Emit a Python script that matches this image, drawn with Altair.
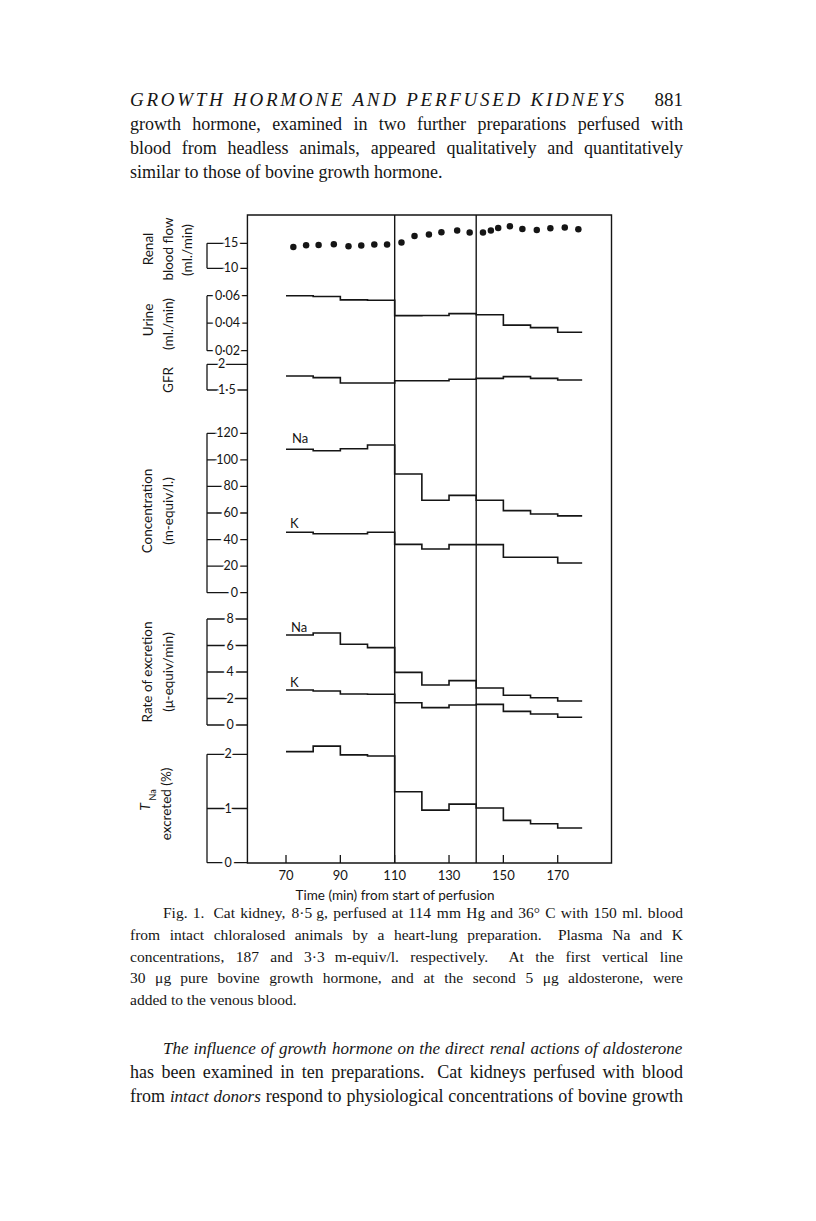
import altair as alt
import pandas as pd

W, H = 800, 1200
OFF = 8
INK = "#151515"
SANS = "Lato"
SERIF = "Liberation Serif"

# ---------------- data ----------------
seg_start = [70, 80, 90, 100, 110, 120, 130, 140, 150, 160, 170]
seg_end = 179

urine = [0.0600, 0.0594, 0.0570, 0.0567, 0.0455, 0.0456, 0.0470, 0.0462, 0.0386, 0.0368, 0.0334]
gfr = [1.772, 1.740, 1.636, 1.636, 1.680, 1.680, 1.708, 1.727, 1.760, 1.727, 1.695]
na_conc = [108.0, 106.9, 108.4, 111.2, 89.4, 69.6, 73.3, 69.6, 61.8, 59.3, 57.8]
k_conc = [45.5, 44.4, 44.4, 45.5, 36.4, 32.9, 36.2, 36.2, 26.7, 26.7, 22.4]
na_rate = [6.79, 6.94, 6.09, 5.84, 3.97, 3.02, 3.35, 2.79, 2.24, 2.06, 1.81]
k_rate = [2.64, 2.57, 2.34, 2.32, 1.68, 1.31, 1.51, 1.56, 1.03, 0.83, 0.58]
t_na = [2.05, 2.15, 1.99, 1.97, 1.31, 0.97, 1.08, 1.01, 0.78, 0.72, 0.64]

rbf_time = [72.7, 77.4, 82.0, 87.6, 93.0, 97.7, 102.5, 107.2, 112.5, 117.3, 122.6, 127.2,
            133.0, 137.6, 142.5, 145.4, 148.1, 152.4, 157.0, 162.3, 167.3, 172.6, 177.6]
rbf_flow = [14.26, 14.60, 14.66, 14.80, 14.40, 14.54, 14.74, 14.74, 15.14, 16.46, 16.74, 17.20,
            17.54, 17.14, 17.14, 17.54, 18.06, 18.40, 17.86, 17.66, 18.00, 18.14, 17.80]

event_times = [110, 140]
x_ticks = [70, 90, 110, 130, 150, 170]
box_limits = [55.8, 189.8]

rbf_ticks, rbf_labels = [15, 10], ["15", "10"]
urine_ticks, urine_labels = [0.06, 0.04, 0.02], ["0·06", "0·04", "0·02"]
gfr_ticks, gfr_labels = [2, 1.5], ["2", "1·5"]
conc_ticks = [120, 100, 80, 60, 40, 20, 0]
conc_labels = ["120", "100", "80", "60", "40", "20", "0"]
rate_ticks, rate_labels = [8, 6, 4, 2, 0], ["8", "6", "4", "2", "0"]
tna_ticks, tna_labels = [2, 1, 0], ["2", "1", "0"]

# page text (words wrapped in * are italic; double spaces are wider gaps)
header_text = "GROWTH HORMONE AND PERFUSED KIDNEYS"
page_number = "881"
para1 = ["growth hormone, examined in two further preparations perfused with",
         "blood from headless animals, appeared qualitatively and quantitatively",
         "similar to those of bovine growth hormone."]
caption = ["Fig. 1.  Cat kidney, 8·5 g, perfused at 114 mm Hg and 36° C with 150 ml. blood",
           "from intact chloralosed animals by a heart-lung preparation.  Plasma Na and K",
           "concentrations, 187 and 3·3 m-equiv/l. respectively.  At the first vertical line",
           "30 μg pure bovine growth hormone, and at the second 5 μg aldosterone, were",
           "added to the venous blood."]
para2 = ["*The* *influence* *of* *growth* *hormone* *on* *the* *direct* *renal* *actions* *of* *aldosterone*",
         "has been examined in ten preparations.  Cat kidneys perfused with blood",
         "from *intact* *donors* respond to physiological concentrations of bovine growth"]


def P(v):
    return v - OFF


XS = alt.Scale(domain=[-32.32, 262.12], range=[0, W], nice=False, zero=False)


def YS(domain, page_range):
    return alt.Scale(domain=domain, range=[P(page_range[0]), P(page_range[1])], nice=False, zero=False)


ys_rbf = YS([10, 15], [268.3, 243.3])
ys_urine = YS([0.02, 0.06], [350.7, 295.7])
ys_gfr = YS([1.5, 2], [390.0, 364.3])
ys_conc = YS([0, 120], [592.7, 433.3])
ys_rate = YS([0, 8], [725.0, 619.0])
ys_tna = YS([0, 2], [862.7, 754.3])

layers = []

# ---------------- frame ----------------
box_df = pd.DataFrame({"a": [box_limits[0]], "b": [box_limits[1]]})
layers.append(
    alt.Chart(box_df).mark_rect(fillOpacity=0, stroke=INK, strokeWidth=1.4).encode(
        x=alt.X("a:Q", scale=XS, axis=None), x2="b:Q",
        y=alt.value(P(215)), y2=alt.value(P(863)))
)
layers.append(
    alt.Chart(pd.DataFrame({"t": event_times})).mark_rule(color=INK, strokeWidth=1.4).encode(
        x=alt.X("t:Q", scale=XS, axis=None), y=alt.value(P(215)), y2=alt.value(P(863)))
)
xt_df = pd.DataFrame({"t": x_ticks, "lab": [str(v) for v in x_ticks]})
layers.append(
    alt.Chart(xt_df).mark_rule(color=INK, strokeWidth=1.3).encode(
        x=alt.X("t:Q", scale=XS, axis=None), y=alt.value(P(855)), y2=alt.value(P(863)))
)
layers.append(
    alt.Chart(xt_df).mark_text(font=SANS, fontSize=13, color=INK, baseline="middle").encode(
        x=alt.X("t:Q", scale=XS, axis=None), y=alt.value(P(876)), text="lab:N")
)


def text(s, x, y, size=13, font=SANS, align="left", angle=0, style="normal", baseline="middle"):
    kw = dict(text=s, font=font, fontSize=size, color=INK, align=align, baseline=baseline,
              fontStyle=style)
    if angle:
        kw["angle"] = angle
    return alt.Chart(pd.DataFrame({"d": [0]})).mark_text(**kw).encode(
        x=alt.value(P(x)), y=alt.value(P(y)))


layers.append(text("Time (min) from start of perfusion", 395, 896, size=13.5, align="center"))


# ---------------- bracket axes ----------------
def bracket_axis(ticks, labels, ys, align, lx):
    df = pd.DataFrame({"v": ticks, "lab": labels})
    out = []
    out.append(alt.Chart(df).mark_rule(color=INK, strokeWidth=1.3).encode(
        x=alt.value(P(207)), x2=alt.value(P(247.5)), y=alt.Y("v:Q", scale=ys, axis=None)))
    bdf = pd.DataFrame({"lo": [min(ticks)], "hi": [max(ticks)]})
    out.append(alt.Chart(bdf).mark_rule(color=INK, strokeWidth=1.3).encode(
        x=alt.value(P(207)), y=alt.Y("lo:Q", scale=ys, axis=None), y2="hi:Q"))
    out.append(alt.Chart(df).mark_text(font=SANS, fontSize=12.5, align=align, baseline="middle",
                                       fill="white", stroke="white", strokeWidth=5).encode(
        x=alt.value(P(lx)), y=alt.Y("v:Q", scale=ys, axis=None), text="lab:N"))
    out.append(alt.Chart(df).mark_text(font=SANS, fontSize=12.5, align=align, baseline="middle",
                                       color=INK).encode(
        x=alt.value(P(lx)), y=alt.Y("v:Q", scale=ys, axis=None), text="lab:N"))
    return out


layers += bracket_axis(rbf_ticks, rbf_labels, ys_rbf, "center", 231)
layers += bracket_axis(urine_ticks, urine_labels, ys_urine, "right", 240)
layers += bracket_axis(gfr_ticks, gfr_labels, ys_gfr, "left", 218)
layers += bracket_axis(conc_ticks, conc_labels, ys_conc, "right", 238)
layers += bracket_axis(rate_ticks, rate_labels, ys_rate, "center", 230)
layers += bracket_axis(tna_ticks, tna_labels, ys_tna, "center", 228)


# ---------------- data marks ----------------
def step_layer(series, ys):
    rows = []
    for name, vals in series:
        t = seg_start + [seg_end]
        v = vals + [vals[-1]]
        for ti, vi in zip(t, v):
            rows.append({"t": ti, "v": vi, "s": name})
    df = pd.DataFrame(rows)
    return alt.Chart(df).mark_line(interpolate="step-after", color=INK, strokeWidth=1.6).encode(
        x=alt.X("t:Q", scale=XS, axis=None), y=alt.Y("v:Q", scale=ys, axis=None), detail="s:N")


layers.append(step_layer([("urine", urine)], ys_urine))
layers.append(step_layer([("gfr", gfr)], ys_gfr))
layers.append(step_layer([("Na", na_conc), ("K", k_conc)], ys_conc))
layers.append(step_layer([("Na", na_rate), ("K", k_rate)], ys_rate))
layers.append(step_layer([("tna", t_na)], ys_tna))

rbf_df = pd.DataFrame({"t": rbf_time, "v": rbf_flow})
layers.append(alt.Chart(rbf_df).mark_circle(size=42, color=INK, opacity=1).encode(
    x=alt.X("t:Q", scale=XS, axis=None), y=alt.Y("v:Q", scale=ys_rbf, axis=None)))

# series labels
layers.append(text("Na", 292, 439))
layers.append(text("K", 290, 524))
layers.append(text("Na", 291, 628))
layers.append(text("K", 290, 683))

# rotated axis titles
for s, x, y in [("Renal", 149, 249), ("blood flow", 169, 249), ("(ml./min)", 188, 250),
                ("Urine", 149, 320), ("(ml./min)", 169, 324), ("GFR", 169, 380),
                ("Concentration", 148, 511), ("(m-equiv/l.)", 169, 511),
                ("Rate of excretion", 148, 672), ("(μ-equiv/min)", 169, 672),
                ("excreted (%)", 167, 804)]:
    layers.append(text(s, x, y, size=13.5, align="center", angle=270))
layers.append(text("T", 146, 807, size=14, align="center", angle=270, style="italic"))
layers.append(text("Na", 153, 795, size=9, align="center", angle=270))

# ---------------- page text layout (Times-compatible advance widths) ----------------
TR = {" ": 250, "(": 333, ")": 333, ",": 250, "-": 333, ".": 250, "/": 278, ":": 278,
      "·": 250, "°": 400, "μ": 500, "%": 833,
      "A": 722, "B": 667, "C": 667, "D": 722, "E": 611, "F": 556, "G": 722, "H": 722, "I": 333,
      "J": 389, "K": 722, "L": 611, "M": 889, "N": 722, "O": 722, "P": 556, "Q": 722, "R": 667,
      "S": 556, "T": 611, "U": 722, "V": 722, "W": 944, "X": 722, "Y": 722, "Z": 611,
      "a": 444, "b": 500, "c": 444, "d": 500, "e": 444, "f": 333, "g": 500, "h": 500, "i": 278,
      "j": 278, "k": 500, "l": 278, "m": 778, "n": 500, "o": 500, "p": 500, "q": 500, "r": 333,
      "s": 389, "t": 278, "u": 500, "v": 500, "w": 722, "x": 500, "y": 500, "z": 444}
TI = dict(TR)
TI.update({"A": 611, "B": 611, "C": 667, "D": 722, "E": 611, "F": 611, "G": 722, "H": 722,
           "I": 333, "J": 444, "K": 667, "L": 556, "M": 833, "N": 667, "O": 722, "P": 611,
           "Q": 722, "R": 611, "S": 500, "T": 556, "U": 722, "V": 611, "W": 833, "X": 611,
           "Y": 556, "Z": 556, "a": 500, "f": 278, "k": 444, "m": 722, "r": 389, "v": 444,
           "w": 667, "x": 444, "y": 444, "z": 389, ":": 333})


def wwidth(word, italic, size):
    tab = TI if italic else TR
    return sum(tab.get(ch, 500) for ch in word) * size / 1000.0


text_rows = []  # layout rows: word, x, y, italic, size


def layout_line(line, xl, xr, y, size, isize, justify=True):
    parts = line.split(" ")
    tokens = []
    weight = 1.0
    for p in parts:
        if p == "":
            weight = 1.7
            continue
        it = p.startswith("*") and p.endswith("*")
        w = p.strip("*")
        tokens.append((w, it, weight if tokens else 0.0))
        weight = 1.0
    widths = [wwidth(w, it, isize if it else size) for w, it, _ in tokens]
    if justify and len(tokens) > 1:
        unit = (xr - xl - sum(widths)) / sum(g for _, _, g in tokens)
    else:
        unit = 250 * size / 1000.0
    x = xl
    for (w, it, g), wd in zip(tokens, widths):
        x += g * unit
        text_rows.append({"w": w, "x": P(x), "y": P(y), "it": it, "size": isize if it else size})
        x += wd


BODY, BODY_I, CAP = 18, 17, 15.5
for i, ln in enumerate(para1):
    layout_line(ln, 130, 683, 125 + 24.2 * i, BODY, BODY_I, justify=(i < len(para1) - 1))
for i, ln in enumerate(caption):
    layout_line(ln, 163 if i == 0 else 130, 683, 913 + 21.8 * i, CAP, CAP,
                justify=(i < len(caption) - 1))
for i, ln in enumerate(para2):
    layout_line(ln, 163 if i == 0 else 130, 683, 1049 + 24.2 * i, BODY, BODY_I, justify=True)

# running header: letter-spaced italic capitals
HS = 19
letters = [(c, wwidth(c, True, HS)) for c in header_text]
n_gaps = len(header_text) - 1
track = (624 - 130 - sum(w for _, w in letters)) / n_gaps
hx = 130
for c, wd in letters:
    if c != " ":
        text_rows.append({"w": c, "x": P(hx), "y": P(100), "it": True, "size": HS})
    hx += wd + track

tdf = pd.DataFrame(text_rows)
for (it, size), grp in tdf.groupby(["it", "size"]):
    layers.append(
        alt.Chart(grp.reset_index(drop=True)).mark_text(
            font=SERIF, fontSize=float(size), fontStyle="italic" if it else "normal",
            color=INK, align="left", baseline="middle").encode(
            x=alt.X("x:Q", scale=None), y=alt.Y("y:Q", scale=None), text="w:N")
    )
layers.append(text(page_number, 683, 100, size=HS, font=SERIF, align="right"))

chart = alt.layer(*layers).resolve_scale(y="independent").properties(
    width=W, height=H, autosize=alt.AutoSizeParams(type="none"), padding=0,
    background="white"
).configure_view(stroke=None)

chart.save("out.html", embed_options={"renderer": "svg", "actions": False})
